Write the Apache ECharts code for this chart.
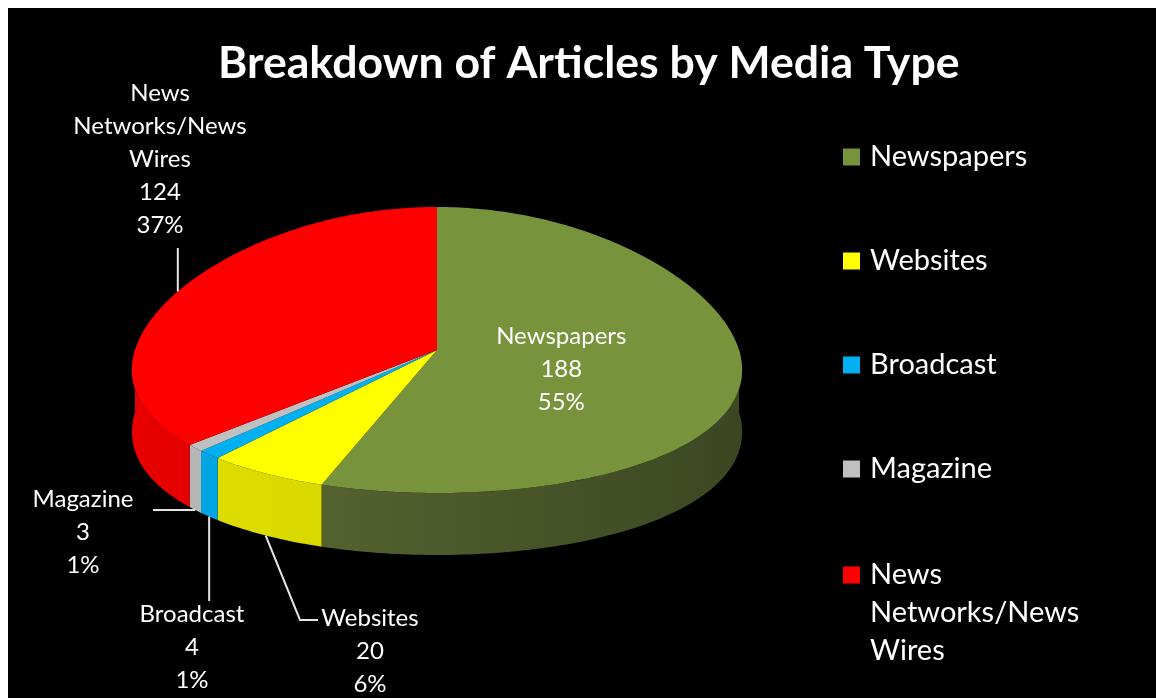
<!DOCTYPE html>
<html>
<head>
<meta charset="utf-8">
<script src="https://cdn.jsdelivr.net/npm/echarts@6/dist/echarts.min.js"></script>
<style>
  html, body { margin: 0; padding: 0; background: #ffffff; width: 1156px; height: 698px; overflow: hidden; }
  #chart { position: absolute; left: 8px; top: 8px; width: 1148px; height: 690px; }
</style>
</head>
<body>
<div id="chart"></div>
<script>
// Article counts per media type
const categories = ['Newspapers', 'Websites', 'Broadcast', 'Magazine', 'News Networks/News Wires'];
const values = [188, 20, 4, 3, 124];
const wrappedNames = ['Newspapers', 'Websites', 'Broadcast', 'Magazine', 'News\nNetworks/News\nWires'];
const topColors = ['#77933c', '#ffff00', '#00b0f0', '#c0c0c0', '#ff0000'];
const wallColors = [
  ['#5d6e34', '#3c4722'],
  ['#e0e000', '#c8c800'],
  ['#00a8e6', '#0090c8'],
  ['#b8b8b8', '#a0a0a0'],
  ['#e80000', '#c80000']
];

const OFF = 8; // page offset of the chart container
const PIE = { cx: 437 - OFF, cy: 350 - OFF, rx: 302, ry: 143, depth: 62, persp: 0.145 };

// Label placement (page coordinates); leader starts at the slice edge
const labelLayout = [
  { inside: true, r: 0.42, dx: -2, dy: 9 },
  { anchor: 'wall', path: [[300, 620], [318, 620]], text: [370, 651] },
  { anchor: 'wall', path: [[null, 601]], text: [192, 647] },
  { anchor: 'wall', path: [[153, null]], text: [83, 532] },
  { anchor: 'top', path: [[null, 248]], text: [160, 159] }
];

const total = values.reduce((s, v) => s + v, 0);
const startAngles = [];
values.reduce((acc, v, i) => { startAngles[i] = acc; return acc + v / total * 360; }, 0);

// Point on the tilted disc: theta clockwise from 12 o'clock, r as fraction of radius
function pt(theta, r, dy) {
  const t = theta * Math.PI / 180;
  const u = Math.sin(t), v = -Math.cos(t);
  return [PIE.cx + PIE.rx * r * u * (1 + PIE.persp * v * r), PIE.cy + PIE.ry * r * v + (dy || 0)];
}
function arc(a, b, r, dy) {
  const pts = [];
  const n = Math.max(2, Math.ceil(b - a));
  for (let k = 0; k <= n; k++) pts.push(pt(a + (b - a) * k / n, r, dy));
  return pts;
}

function makeRender(i) {
  return function (params, api) {
    const val = api.value(0);
    const a = startAngles[i];
    const b = a + val / total * 360;
    const children = [];

    // top face
    children.push({
      type: 'polygon',
      shape: { points: [[PIE.cx, PIE.cy]].concat(arc(a, b, 1, 0)) },
      style: { fill: topColors[i] },
      z2: 10
    });

    // outer wall, front half only
    const wa = Math.max(a, 90), wb = Math.min(b, 270);
    if (wb > wa) {
      const upper = arc(wa, wb, 1, 0);
      const lower = arc(wa, wb, 1, PIE.depth).reverse();
      children.push({
        type: 'polygon',
        shape: { points: upper.concat(lower) },
        style: {
          fill: new echarts.graphic.LinearGradient(PIE.cx - PIE.rx, 0, PIE.cx + PIE.rx, 0, [
            { offset: 0, color: wallColors[i][0] },
            { offset: 1, color: wallColors[i][1] }
          ], true)
        },
        z2: 5
      });
    }

    // data label
    const mid = (a + b) / 2;
    const L = labelLayout[i];
    const text = wrappedNames[i] + '\n' + val + '\n' + Math.round(val / total * 100) + '%';
    let tx, ty;
    if (L.inside) {
      const p = pt(mid, L.r, 0);
      tx = p[0] + L.dx; ty = p[1] + L.dy;
    } else {
      let prev = pt(mid, 1, L.anchor === 'wall' ? PIE.depth : 0);
      const line = [prev];
      L.path.forEach(function (w) {
        const q = [w[0] == null ? prev[0] : w[0] - OFF, w[1] == null ? prev[1] : w[1] - OFF];
        line.push(q); prev = q;
      });
      children.push({
        type: 'polyline',
        shape: { points: line },
        style: { stroke: '#e6e6e6', lineWidth: 2, fill: null },
        z2: 20
      });
      tx = L.text[0] - OFF; ty = L.text[1] - OFF;
    }
    children.push({
      type: 'text',
      style: {
        text: text, x: tx, y: ty, fill: '#ffffff',
        font: '24px Lato', align: 'center', verticalAlign: 'middle', lineHeight: 33
      },
      z2: 30
    });
    return { type: 'group', children: children };
  };
}

const chart = echarts.init(document.getElementById('chart'), null, { renderer: 'canvas' });

const legendText = { color: '#ffffff', fontFamily: 'Lato', fontSize: 29, lineHeight: 38, padding: [0, 0, 0, 5] };

chart.setOption({
  backgroundColor: '#000000',
  animation: false,
  title: {
    text: 'Breakdown of Articles by Media Type',
    left: 210,
    top: 33,
    padding: 0,
    textStyle: { color: '#ffffff', fontFamily: 'Lato', fontWeight: 'bold', fontSize: 44.6 }
  },
  legend: [
    {
      data: categories.slice(0, 4),
      orient: 'vertical',
      left: 835,
      top: 130,
      padding: 0,
      itemGap: 66,
      itemWidth: 17,
      itemHeight: 17,
      icon: 'rect',
      selectedMode: false,
      textStyle: legendText
    },
    {
      data: [categories[4]],
      orient: 'vertical',
      left: 835,
      top: 575 - 95 - OFF,
      padding: 0,
      itemWidth: 17,
      itemHeight: 17,
      icon: 'rect',
      selectedMode: false,
      // two empty lines above keep the first text line level with the icon
      formatter: function () { return '\n\n' + wrappedNames[4]; },
      textStyle: legendText
    }
  ],
  series: categories.map(function (name, i) {
    return {
      type: 'custom',
      name: name,
      coordinateSystem: 'none',
      silent: true,
      itemStyle: { color: topColors[i] },
      data: [[values[i]]],
      renderItem: makeRender(i)
    };
  })
});
</script>
</body>
</html>
